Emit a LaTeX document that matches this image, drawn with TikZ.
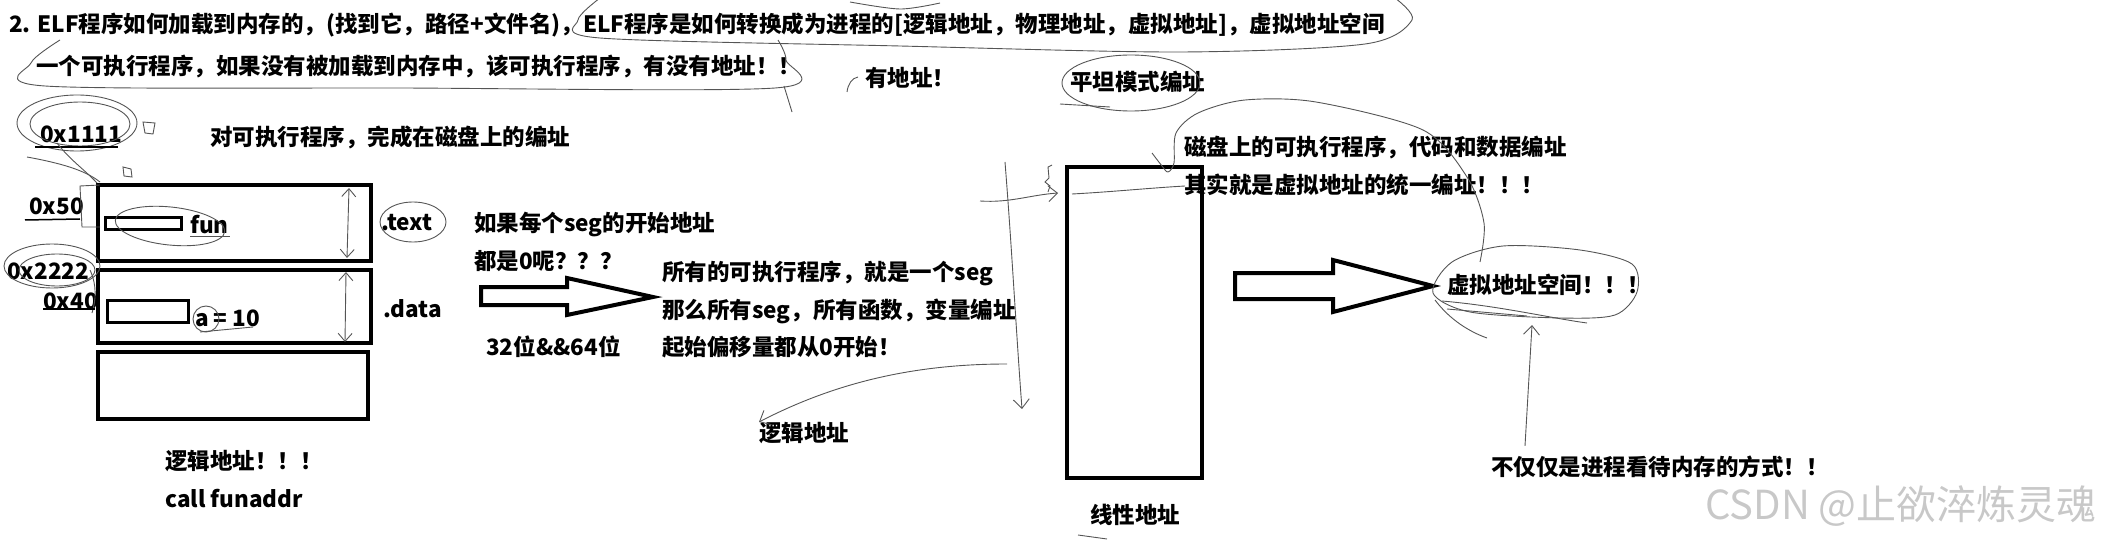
\documentclass[tikz,border=0pt]{standalone}
\usepackage{fontspec}
\setmainfont{Noto Sans CJK SC}
\usetikzlibrary{arrows.meta}
\definecolor{inkgray}{RGB}{85,85,85}
\definecolor{markgray}{RGB}{200,200,200}

\begin{document}
\begin{tikzpicture}[
        x=1pt, y=-1pt,
        note/.style={anchor=west, inner sep=0pt, align=left, font=\fontsize{22.5}{37.5}\selectfont\bfseries},
        segbox/.style={draw, line width=4pt},
        itembox/.style={draw, line width=3pt},
        fatarrow/.style={draw, line width=4pt, line join=miter},
        ink/.style={draw=inkgray, line width=0.9pt},
        barb/.style={ink, -{Straight Barb[length=9pt, width=16pt]}},
        twobarb/.style={ink, {Straight Barb[length=8pt, width=14pt]}-{Straight Barb[length=8pt, width=14pt]}}
    ]
        \useasboundingbox (0,0) rectangle (2115,540);

        % Header lines
        \node[note] (title) at (9,25) {2. ELF程序如何加载到内存的，(找到它，路径+文件名)，ELF程序是如何转换成为进程的[逻辑地址，物理地址，虚拟地址]，虚拟地址空间};
        \node[note] (question) at (36,67) {一个可执行程序，如果没有被加载到内存中，该可执行程序，有没有地址！！};
        \node[note] (answer) at (865,78) {有地址！};
        \node[note] (flat) at (1070,82) {平坦模式编址};

        % Segments on disk (left)
        \node[note] (a1111) at (40,134) {0x1111};
        \node[note] (diskaddr) at (210,137) {对可执行程序，完成在磁盘上的编址};
        \draw[segbox] (98,185) rectangle (371,261);
        \draw[segbox] (98,270) rectangle (371,343);
        \draw[segbox] (98,352) rectangle (368,419);
        \draw[itembox] (105,218) rectangle (181,230);
        \draw[itembox] (107,300) rectangle (188,322);
        \node[note] (a50) at (29,206) {0x50};
        \node[note] (fun) at (190,225) {fun};
        \node[note] (textseg) at (381,223) {.text};
        \node[note] (a2222) at (7,271) {0x2222};
        \node[note] (a40) at (43,301) {0x40};
        \node[note] (avar) at (195,318) {a = 10};
        \node[note] (dataseg) at (383,309) {.data};
        \node[note] (logic) at (165,479) {逻辑地址！！！\\call funaddr};

        % Middle notes
        \node[note] (ifzero) at (474,242) {如果每个seg的开始地址\\都是0呢？？？};
        \node[note] (bits) at (486,347) {32位\&\&64位};
        \node[note] (oneseg) at (662,310) {所有的可执行程序，就是一个seg\\那么所有seg，所有函数，变量编址\\起始偏移量都从0开始！};
        \node[note] (logic2) at (759,433) {逻辑地址};

        % Linear address (right)
        \draw[segbox] (1067,167) rectangle (1202,478);
        \node[note] (linear) at (1090,515) {线性地址};
        \node[note] (diskcode) at (1184,166) {磁盘上的可执行程序，代码和数据编址\\其实就是虚拟地址的统一编址！！！};
        \node[note] (vspace) at (1447,285) {虚拟地址空间！！！};
        \node[note] (notonly) at (1491,467) {不仅仅是进程看待内存的方式！！};
        \node[anchor=west, inner sep=0pt, text=markgray, font=\fontsize{40}{40}\selectfont] (mark) at (1705,506) {CSDN @止欲淬炼灵魂};

        % Fat arrows
        \draw[fatarrow] (481,287) -- (567,287) -- (567,278) -- (653,297) -- (567,315) -- (567,305) -- (481,305) -- cycle;
        \draw[fatarrow] (1235,273) -- (1333,273) -- (1333,260) -- (1433,286) -- (1333,312) -- (1333,299) -- (1235,299) -- cycle;

        % Hand-drawn marks
        \draw[ink] plot[smooth] coordinates {(600,-2) (578,20) (600,38) (900,46) (1180,52) (1365,44) (1412,20) (1395,-2)};
        \draw[ink] plot[smooth] coordinates {(850,2) (900,9) (940,3)};
        \draw[ink] plot[smooth] coordinates {(60,40) (31,63) (45,86) (400,88) (775,88) (786,60) (778,40)};
        \draw[ink] (784,86) -- (792,112);
        \draw[ink] (847,92) .. controls (848,84) and (852,78) .. (858,77);
        \draw[ink] (1131,83) ellipse [x radius=69pt, y radius=28pt];
        \draw[ink] (1060,104) -- (1110,107);
        \draw[ink] (77,123) ellipse [x radius=60pt, y radius=28pt];
        \draw[ink] (80,124) ellipse [x radius=50pt, y radius=22pt];
        \draw[line width=2pt] (35,147) -- (118,147);
        \draw[ink] (27,157) .. controls (60,163) and (85,170) .. (100,182);
        \draw[ink] (57,143) .. controls (70,160) and (85,170) .. (97,183);
        \draw[ink] (143,122) -- (155,123) -- (153,134) -- (145,133) -- cycle;
        \draw[ink] (123,167) -- (131,169) -- (132,177) -- (124,176) -- cycle;
        \draw[ink] (100,185) -- (80,186) -- (82,227) -- (100,227);
        \draw[line width=1.5pt] (25,220) -- (80,219);
        \draw[ink, rotate around={-6:(170,226)}] (170,226) ellipse [x radius=55pt, y radius=19pt];
        \draw[ink] (190,236) -- (230,236);
        \draw[ink] (413,222) ellipse [x radius=33pt, y radius=20pt];
        \draw[ink] (52,266) ellipse [x radius=48pt, y radius=22pt];
        \draw[ink] (57,270) ellipse [x radius=38pt, y radius=16pt];
        \draw[ink] (90,270) .. controls (97,285) and (96,300) .. (92,313);
        \draw[line width=1.5pt] (43,309) -- (95,309);
        \draw[ink] (206,319) circle [radius=13pt];
        \draw[ink] (200,332) -- (253,327);
        \draw[twobarb] (349,188) -- (347,258);
        \draw[twobarb] (346,272) -- (345,342);

        % Pointers around the linear box
        \coordinate (vtop) at (1005,162);
        \coordinate (vbot) at (1022,409);
        \coordinate (hfrom) at (980,201);
        \coordinate (hto) at (1058,193);
        \coordinate (bend) at (1007,364);
        \draw[barb] (vtop) .. controls (1012,250) and (1016,330) .. (vbot);
        \draw[barb] (hfrom) .. controls (1010,203) and (1030,195) .. (hto);
        \draw[barb] (bend) .. controls (920,364) and (840,380) .. (logic2.north west);
        \draw[ink] (1052,165) -- (1048,167) -- (1049,178) -- (1045,182) -- (1050,186) -- (1048,192);
        \draw[ink] (1072,194) .. controls (1110,192) and (1150,188) .. (1185,186);
        \draw[ink] plot[smooth] coordinates {(1152,153) (1162,166) (1168,172) (1174,163) (1176,133) (1198,113) (1245,100) (1316,102) (1423,130) (1467,177) (1484,223) (1480,262)};
        \draw[ink] plot[smooth cycle] coordinates {(1433,293) (1452,262) (1503,246) (1580,250) (1632,264) (1637,292) (1615,315) (1560,318) (1470,312)};
        \draw[ink] (1442,301) .. controls (1500,306) and (1550,318) .. (1587,323);
        \draw[ink] (1447,309) -- (1527,316);
        \draw[ink] (1435,300) .. controls (1450,320) and (1470,332) .. (1487,338);
        \draw[barb] (notonly.north west -| 1525,0) ++(0,-10) -- (1532,325);
        \draw[ink] (1078,535) -- (1107,539);
\end{tikzpicture}
\end{document}
